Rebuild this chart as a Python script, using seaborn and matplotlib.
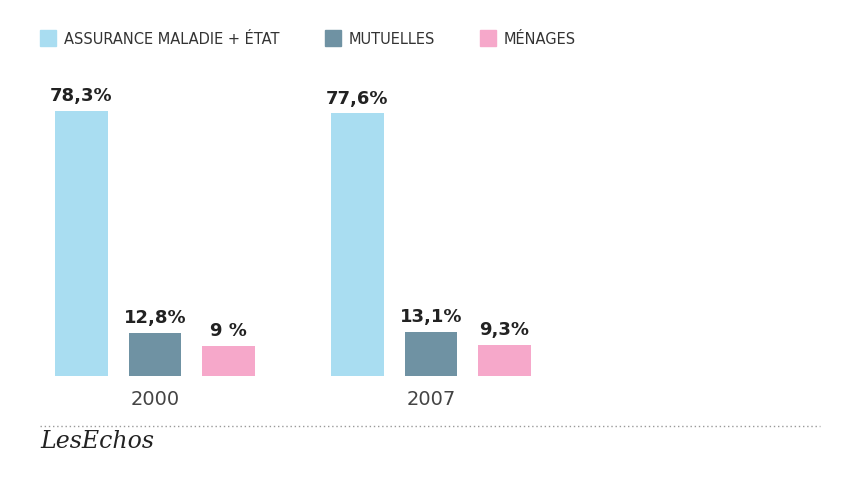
import pandas as pd
import matplotlib.pyplot as plt
import matplotlib.patches as mpatches
import seaborn as sns

years = ['2000', '2007']
series = ['ASSURANCE MALADIE + ÉTAT', 'MUTUELLES', 'MÉNAGES']
values = {
    'ASSURANCE MALADIE + ÉTAT': [78.3, 77.6],
    'MUTUELLES': [12.8, 13.1],
    'MÉNAGES': [9.0, 9.3],
}
labels = {
    'ASSURANCE MALADIE + ÉTAT': ['78,3%', '77,6%'],
    'MUTUELLES': ['12,8%', '13,1%'],
    'MÉNAGES': ['9 %', '9,3%'],
}
colors = ['#a9ddf1', '#6f92a3', '#f6a8ca']

rows = []
for s in series:
    for y, v in zip(years, values[s]):
        rows.append({'year': y, 'series': s, 'value': v})
df = pd.DataFrame(rows)

fig = plt.figure(figsize=(8.58, 4.8), dpi=100)
ax = fig.add_axes([0, 104 / 480, 1, 376 / 480])
sns.barplot(data=df, x='year', y='value', hue='series', palette=colors,
            gap=0.28, legend=False, ax=ax, saturation=1)
ax.set_xlim(-155 / 276, 703 / 276)
ax.set_ylim(0, 376 / 3.385)
ax.axis('off')

for cont, s in zip(ax.containers, series):
    ax.bar_label(cont, labels=labels[s], padding=4, fontsize=13,
                 fontweight='bold', color='#222222')

for i, y in enumerate(years):
    ax.text(i, -7, y, ha='center', va='center', fontsize=14, color='#444444')

# legende
lx = [40, 325, 480]
for x, s, c in zip(lx, series, colors):
    fig.patches.append(mpatches.Rectangle((x / 858, 1 - 46 / 480), 16 / 858, 16 / 480,
                                          transform=fig.transFigure, color=c))
    fig.text((x + 24) / 858, 1 - 39 / 480, s, fontsize=10.5, va='center', color='#333333')

fig.add_artist(plt.Line2D([40 / 858, 820 / 858], [1 - 426 / 480] * 2,
                          transform=fig.transFigure, color='#999999', lw=1, ls=(0, (1, 2))))
fig.text(40 / 858, 1 - 442 / 480, 'LesEchos', fontsize=17, family='serif',
         style='italic', va='center', color='#222222')

fig.savefig('out.png', dpi=100, facecolor='white')
